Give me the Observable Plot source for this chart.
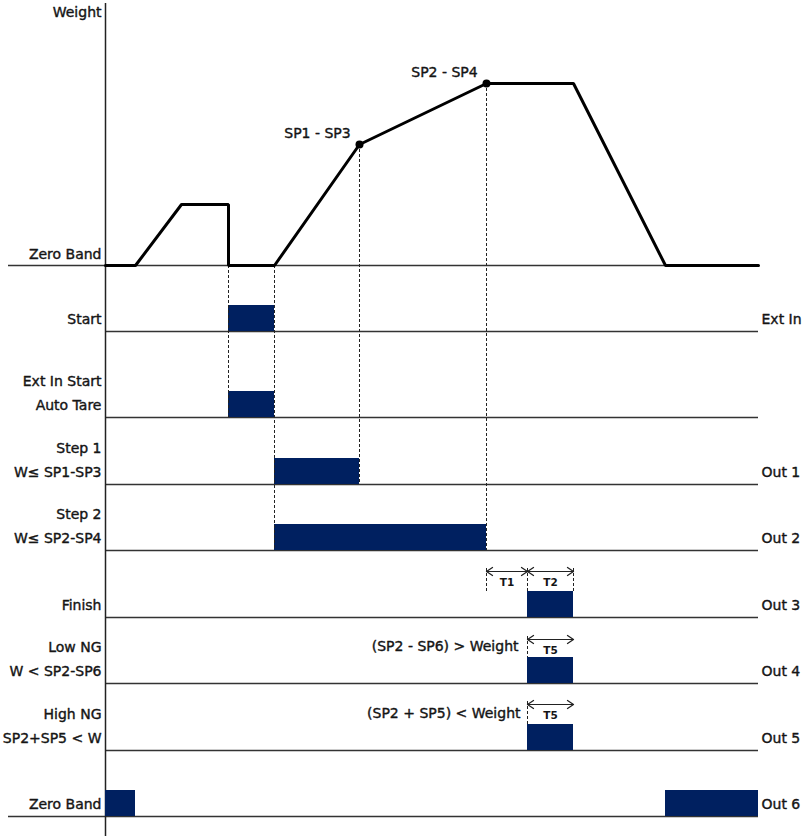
<!DOCTYPE html>
<html><head><meta charset="utf-8">
<script src="https://cdn.jsdelivr.net/npm/d3@7"></script>
<script src="https://cdn.jsdelivr.net/npm/@observablehq/plot@0.6"></script>
<style>
body{margin:0;background:#fff}
#chart svg{display:block}
</style>
</head><body><div id="chart"></div>
<script>
// ---- Data (time units along x, levels along y) ----
const weightTime  = [105, 135, 181, 228, 228, 274, 359, 486, 573, 665, 758];
const weightValue = [0,   0,   61,  61,  0,   0,   121, 182, 182, 0,   0];
const setpointNames = ["SP1 - SP3", "SP2 - SP4"];
const setpointTime  = [359, 486];
const setpointValue = [121, 182];
const zeroBandLevel = 265;   // vertical level of weight zero band

const rowLabels  = ["Start", "Ext In Start\nAuto Tare", "Step 1\nW≤ SP1-SP3", "Step 2\nW≤ SP2-SP4",
                    "Finish", "Low NG\nW < SP2-SP6", "High NG\nSP2+SP5 < W", "Zero Band"];
const rowOutputs = ["Ext In", "", "Out 1", "Out 2", "Out 3", "Out 4", "Out 5", "Out 6"];
const rowLevel   = [331, 417, 484, 550, 617, 683, 750, 816];

const pulseRow   = [0, 1, 2, 3, 4, 5, 6, 7, 7];
const pulseStart = [228, 228, 274, 274, 527, 527, 527, 105, 665];
const pulseEnd   = [274, 274, 359, 486, 573, 573, 573, 135, 758];
const pulseHeight = 26;

const timeStart = 105, timeEnd = 758, labelLeft = 8;

const conditionText = ["(SP2 - SP6) > Weight", "(SP2 + SP5) < Weight"];
const conditionRow  = [5, 6];
const conditionEnd  = [518, 520];

const timerNames = ["T1", "T2", "T5", "T5"];
const timerRow   = [4, 4, 5, 6];
const timerStart = [486, 527, 527, 527];
const timerEnd   = [527, 573, 573, 573];
const timerRise  = [46, 46, 44, 46];

// dashed guides: time, from level, to level
const guideTime = [228, 274, 359, 486];
const guideFrom = [265, 265, 144, 83];
const guideTo   = [417, 550, 484, 550];

// ---- Derived tables ----
const W = w => zeroBandLevel - w;
const weightPts = weightTime.map((t, i) => ({t, y: W(weightValue[i])}));
const spPts = setpointNames.map((n, i) => ({n, t: setpointTime[i], y: W(setpointValue[i])}));
const rows = rowLabels.map((l, i) => ({l, o: rowOutputs[i], y: rowLevel[i]}));
const pulses = pulseRow.map((r, i) => ({x1: pulseStart[i], x2: pulseEnd[i], y1: rowLevel[r] - pulseHeight, y2: rowLevel[r]}));
const conds = conditionText.map((s, i) => ({s, x: conditionEnd[i], y: rowLevel[conditionRow[i]] - 37}));
const timers = timerNames.map((n, i) => ({n, x1: timerStart[i], x2: timerEnd[i],
  y: rowLevel[timerRow[i]] - timerRise[i], base: rowLevel[timerRow[i]] - pulseHeight}));
const guides = guideTime.map((t, i) => ({t, y1: guideFrom[i], y2: guideTo[i]}));
// short timer ticks
const ticks = [];
timers.forEach((d, i) => {
  ticks.push({t: d.x1, y1: d.y - 3, y2: i === 0 ? d.y + 21 : d.base});
  if (i < 2) ticks.push({t: d.x2, y1: d.y - 3, y2: d.base});
});
// chevron arrow heads at both ends of each timer span
const headLen = 6, headHalf = 4;
const heads = [];
timers.forEach((d, i) => {
  [[d.x1, 1], [d.x2, -1]].forEach(([x, dir], k) => {
    const id = i * 2 + k;
    heads.push({id, x: x + dir * headLen, y: d.y - headHalf});
    heads.push({id, x: x, y: d.y});
    heads.push({id, x: x + dir * headLen, y: d.y + headHalf});
  });
});

const FONT = "'DejaVu Sans', 'Open Sans', sans-serif";
const ink = "#151515";
const navy = "#002060";
const txt = {fontSize: 14, fill: ink, stroke: ink, strokeWidth: 0.4};

const plot = Plot.plot({
  width: 804, height: 836,
  marginTop: 0, marginBottom: 0, marginLeft: 0, marginRight: 0,
  x: {domain: [0, 804], range: [0, 804], axis: null},
  y: {domain: [0, 836], range: [0, 836], axis: null},
  style: {fontFamily: FONT, background: "#fff", overflow: "visible"},
  marks: [
    // row baselines
    Plot.ruleY(rows, {y: "y", x1: (d, i) => i === rows.length - 1 ? labelLeft : timeStart, x2: timeEnd, stroke: "#333", strokeWidth: 1.5}),
    Plot.ruleY([zeroBandLevel], {x1: labelLeft, x2: timeEnd, stroke: "#333", strokeWidth: 1.5}),
    // vertical axis
    Plot.ruleX([timeStart], {y1: 3, y2: 836, stroke: "#222", strokeWidth: 1.5}),
    // pulses
    Plot.rect(pulses, {x1: "x1", x2: "x2", y1: "y1", y2: "y2", fill: navy}),
    // dashed guides
    Plot.ruleX(guides, {x: "t", y1: "y1", y2: "y2", stroke: "#222", strokeWidth: 1, strokeDasharray: "3,2"}),
    Plot.ruleX(ticks, {x: "t", y1: "y1", y2: "y2", stroke: "#222", strokeWidth: 1, strokeDasharray: "3,2"}),
    // weight curve
    Plot.line(weightPts, {x: "t", y: "y", stroke: "#000", strokeWidth: 3, strokeLinejoin: "miter", curve: "linear"}),
    Plot.dot(spPts, {x: "t", y: "y", r: 4, fill: "#000"}),
    Plot.text(spPts, {x: d => d.t - 42, y: d => d.y - 11, text: "n", ...txt}),
    // timer arrows
    Plot.link(timers, {x1: "x1", x2: "x2", y1: "y", y2: "y", stroke: "#222", strokeWidth: 1.2}),
    Plot.line(heads, {x: "x", y: "y", z: "id", stroke: "#222", strokeWidth: 1.3}),
    Plot.text(timers, {x: d => (d.x1 + d.x2) / 2, y: d => d.y + 11, text: "n", fontSize: 10.5, fontWeight: 700, fill: ink}),
    // axis titles
    Plot.text(["Weight"], {x: 101, y: 12, text: d => d, textAnchor: "end", ...txt}),
    Plot.text(["Zero Band"], {x: 101, y: zeroBandLevel - 11, text: d => d, textAnchor: "end", ...txt}),
    // row labels
    Plot.text(rows, {x: 101, y: d => d.y - 8, text: "l", textAnchor: "end", lineAnchor: "bottom", lineHeight: 1.68, ...txt}),
    Plot.text(rows.filter(d => d.o), {x: 761, y: d => d.y - 8, text: "o", textAnchor: "start", lineAnchor: "bottom", ...txt}),
    // condition texts
    Plot.text(conds, {x: "x", y: "y", text: "s", textAnchor: "end", ...txt})
  ]
});
document.getElementById("chart").appendChild(plot);
</script>
</body></html>
